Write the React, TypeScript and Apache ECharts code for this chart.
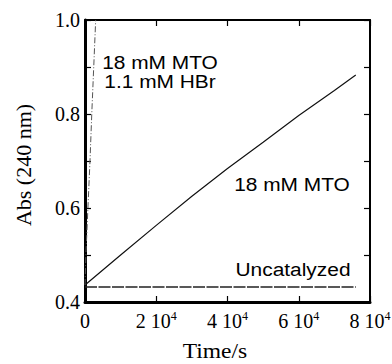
import React, { useEffect, useRef } from "react";
import * as echarts from "echarts";

const mtoTime = [0, 10000, 20000, 30000, 40000, 50000, 60000, 70000, 76000];
const mtoAbs = [0.436, 0.5, 0.563, 0.625, 0.684, 0.74, 0.797, 0.85, 0.883];
const hbrTime = [0, 300, 1400, 1900, 3000];
const hbrAbs = [0.436, 0.51, 0.7, 0.8, 1.0];
const uncatTime = [0, 76000];
const uncatAbs = [0.432, 0.432];
const xMin = 0;
const xMax = 80000;
const xStep = 20000;
const yMin = 0.4;
const yMax = 1.0;
const yStep = 0.2;

const labelsText = {
  hbr1: "18 mM MTO",
  hbr2: "1.1 mM HBr",
  mto: "18 mM MTO",
  uncat: "Uncatalyzed",
  xName: "Time/s",
  yName: "Abs (240 nm)",
};

const zip = (a: number[], b: number[]) => a.map((v, i) => [v, b[i]]);

export default function App() {
  const ref = useRef<HTMLDivElement>(null);
  useEffect(() => {
    document.body.style.margin = "0";
    const chart = echarts.init(ref.current!, null, { renderer: "svg" });
    const serif = "'Liberation Serif', 'Times New Roman', serif";
    const sans = "'Liberation Sans', Arial, sans-serif";
    const tick = () => ({ show: true, inside: true, length: 6, lineStyle: { color: "#000", width: 1.2 } });
    const line = (w: number) => ({ show: true, onZero: false, lineStyle: { color: "#000", width: w } });
    const xCommon = () => ({
      type: "value" as const,
      min: xMin,
      max: xMax,
      interval: xStep,
      splitLine: { show: false },
      axisTick: tick(),
    });
    const yCommon = () => ({
      type: "value" as const,
      min: yMin,
      max: yMax,
      interval: yStep,
      splitLine: { show: false },
      axisTick: tick(),
      minorTick: { show: true, splitNumber: 2, length: 6, lineStyle: { color: "#000", width: 1.2 } },
    });
    const sText = (text: string, x: number, y: number) => ({
      type: "text",
      x,
      y,
      scaleX: 1.1,
      z: 10,
      style: { text, font: `19px ${sans}`, fill: "#000", align: "center", verticalAlign: "middle" },
    });
    chart.setOption({
      animation: false,
      backgroundColor: "#fff",
      grid: { left: 85, right: 22, top: 20, bottom: 62, containLabel: false, outerBoundsMode: "none" },
      xAxis: [
        {
          ...xCommon(),
          position: "bottom",
          axisLine: line(3),
          axisLabel: {
            margin: 8,
            color: "#000",
            fontFamily: serif,
            fontSize: 20,
            formatter: (v: number) => (v === 0 ? "{n|0}" : `{n|${v / 10000} 10}{s|4}`),
            rich: {
              n: { fontFamily: serif, fontSize: 20, color: "#000", lineHeight: 22 },
              s: { fontFamily: serif, fontSize: 12, color: "#000", lineHeight: 12, verticalAlign: "top" },
            },
          },
        },
        {
          ...xCommon(),
          position: "top",
          axisLine: line(2),
          axisLabel: { show: false },
        },
      ],
      yAxis: [
        {
          ...yCommon(),
          position: "left",
          axisLine: line(3),
          axisLabel: {
            margin: 5,
            color: "#000",
            fontFamily: serif,
            fontSize: 20,
            formatter: (v: number) => v.toFixed(1),
          },
        },
        {
          ...yCommon(),
          position: "right",
          axisLine: line(2),
          axisLabel: { show: false },
        },
      ],
      series: [
        {
          type: "line",
          data: zip(mtoTime, mtoAbs),
          symbol: "none",
          lineStyle: { color: "#111", width: 1.2 },
        },
        {
          type: "line",
          data: zip(hbrTime, hbrAbs),
          symbol: "none",
          lineStyle: { color: "#555", width: 1, type: [6, 2, 1, 2] },
        },
        {
          type: "line",
          data: zip(uncatTime, uncatAbs),
          symbol: "none",
          lineStyle: { color: "#222", width: 1.5, type: [12, 1.5] },
        },
      ],
      graphic: [
        sText(labelsText.hbr1, 160, 62),
        sText(labelsText.hbr2, 160, 81),
        sText(labelsText.mto, 292, 184),
        sText(labelsText.uncat, 293, 269),
        {
          type: "text",
          x: 215,
          y: 351,
          scaleX: 1.12,
          style: { text: labelsText.xName, font: `21px ${serif}`, fill: "#000", align: "center", verticalAlign: "middle" },
        },
        {
          type: "text",
          x: 23,
          y: 165,
          rotation: Math.PI / 2,
          style: { text: labelsText.yName, font: `22px ${serif}`, fill: "#000", align: "center", verticalAlign: "middle" },
        },
      ],
    });
    return () => chart.dispose();
  }, []);
  return <div ref={ref} style={{ width: 392, height: 364 }} />;
}
